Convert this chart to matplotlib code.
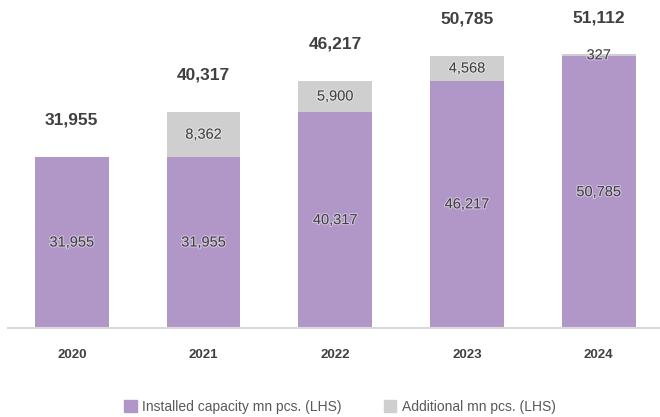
import matplotlib.pyplot as plt
import matplotlib.patheffects as pe
from matplotlib.patches import Patch

plt.rcParams['font.family'] = ['Liberation Sans', 'DejaVu Sans']

# capacity data, mn pcs.
years = ["2020", "2021", "2022", "2023", "2024"]
installed = [31955, 31955, 40317, 46217, 50785]
additional = [0, 8362, 5900, 4568, 327]
totals = [31955, 40317, 46217, 50785, 51112]

purple = "#b197c8"
grey = "#d0cfcf"
txt = "#404040"

fig = plt.figure(figsize=(6.6, 4.17), dpi=100)
ax = fig.add_axes([0.012, 0.2134, 0.995, 0.77])

x = range(len(years))
ax.bar(x, installed, width=0.56, color=purple, zorder=2)
ax.bar(x, additional, width=0.56, bottom=installed, color=grey, zorder=2)

halo = [pe.withStroke(linewidth=1.5, foreground="white", alpha=0.45)]
for i in x:
    ax.text(i, installed[i] / 2, f"{installed[i]:,}", ha="center", va="center",
            fontsize=10.5, color=txt, path_effects=halo, zorder=3)
    if additional[i] > 0:
        ax.text(i, installed[i] + additional[i] / 2, f"{additional[i]:,}", ha="center",
                va="center", fontsize=10.5, color=txt, path_effects=halo, zorder=3)
    ax.annotate(f"{totals[i]:,}", (i, totals[i]), xytext=(0, 26.5), textcoords="offset points",
                ha="center", va="center", fontsize=12.5, fontweight="bold", color=txt)

ax.set_xlim(-0.485, 4.5)
ax.set_ylim(0, 60000)
ax.set_xticks(list(x))
ax.set_xticklabels(years, fontsize=9.5, fontweight="bold", color=txt)
ax.tick_params(axis="x", length=0, pad=15)
ax.set_yticks([])
for s in ["top", "right", "left"]:
    ax.spines[s].set_visible(False)
ax.spines["bottom"].set_color("#d9d9d9")
ax.spines["bottom"].set_linewidth(1.5)

handles = [Patch(color=purple, label="Installed capacity mn pcs. (LHS)"),
           Patch(color=grey, label="Additional mn pcs. (LHS)")]
fig.legend(handles=handles, loc="center", bbox_to_anchor=(0.515, 0.025), ncol=2, frameon=False,
           fontsize=10, handlelength=0.9, handleheight=0.9, columnspacing=3, handletextpad=0.4,
           labelcolor="#595959")

fig.savefig("out.png", dpi=100)
